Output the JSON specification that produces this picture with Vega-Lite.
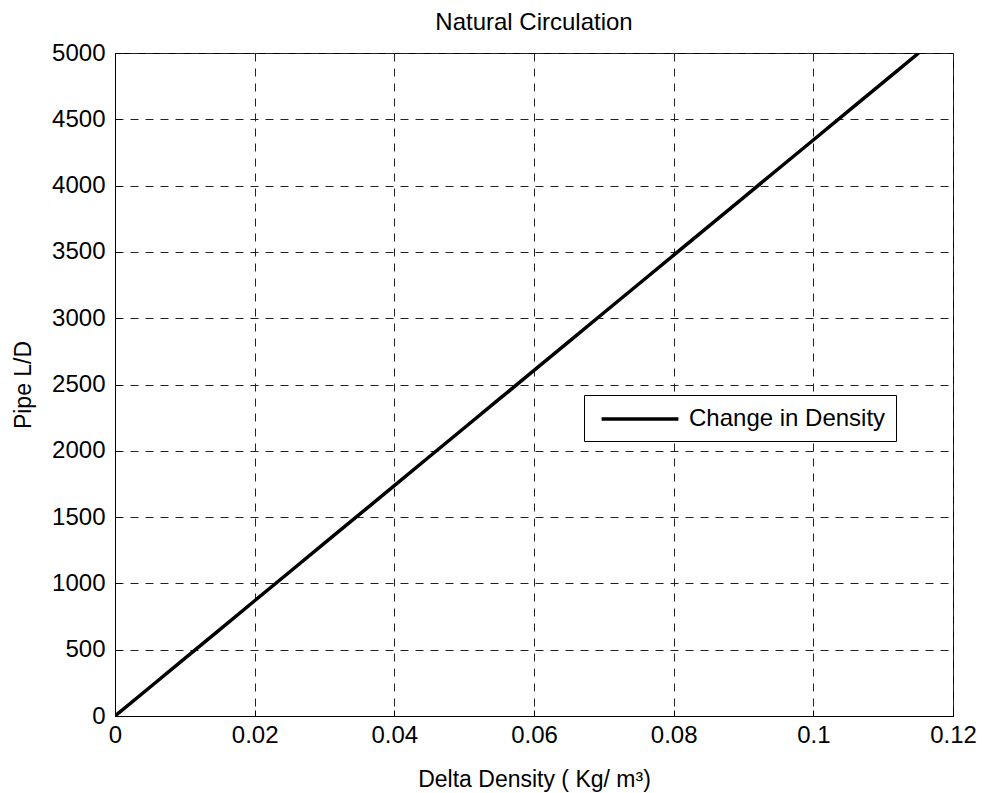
{
  "$schema": "https://vega.github.io/schema/vega-lite/v6.json",
  "autosize": {"type": "none"},
  "padding": {"left": 115, "top": 53, "right": 30, "bottom": 77},
  "width": 838,
  "height": 663,
  "background": "white",
  "title": {"text": "Natural Circulation", "fontSize": 24, "font": "Liberation Sans", "fontWeight": "normal", "color": "black", "frame": "group", "offset": 6},
  "config": {
    "view": {"stroke": "black", "strokeWidth": 1},
    "axis": {
      "labelFont": "Liberation Sans", "labelFontSize": 24, "labelColor": "black", "labelFlush": false,
      "titleFont": "Liberation Sans", "titleFontSize": 23, "titleFontWeight": "normal", "titleColor": "black",
      "domainColor": "black", "domainWidth": 1,
      "gridColor": "#222", "gridDash": [8, 7], "gridWidth": 1, "gridOpacity": 1,
      "tickColor": "black", "tickSize": -6, "tickWidth": 1
    },
    "legend": {"labelFont": "Liberation Sans", "labelFontSize": 24, "labelColor": "black", "labelLimit": 0}
  },
  "data": {"values": [
    {"x": 0, "y": 0, "s": "Change in Density"},
    {"x": 0.005, "y": 217, "s": "Change in Density"},
    {"x": 0.01, "y": 434, "s": "Change in Density"},
    {"x": 0.015, "y": 652, "s": "Change in Density"},
    {"x": 0.02, "y": 869, "s": "Change in Density"},
    {"x": 0.025, "y": 1086, "s": "Change in Density"},
    {"x": 0.03, "y": 1303, "s": "Change in Density"},
    {"x": 0.035, "y": 1520, "s": "Change in Density"},
    {"x": 0.04, "y": 1738, "s": "Change in Density"},
    {"x": 0.045, "y": 1955, "s": "Change in Density"},
    {"x": 0.05, "y": 2172, "s": "Change in Density"},
    {"x": 0.055, "y": 2389, "s": "Change in Density"},
    {"x": 0.06, "y": 2606, "s": "Change in Density"},
    {"x": 0.065, "y": 2824, "s": "Change in Density"},
    {"x": 0.07, "y": 3041, "s": "Change in Density"},
    {"x": 0.075, "y": 3258, "s": "Change in Density"},
    {"x": 0.08, "y": 3475, "s": "Change in Density"},
    {"x": 0.085, "y": 3692, "s": "Change in Density"},
    {"x": 0.09, "y": 3910, "s": "Change in Density"},
    {"x": 0.095, "y": 4127, "s": "Change in Density"},
    {"x": 0.1, "y": 4344, "s": "Change in Density"},
    {"x": 0.105, "y": 4561, "s": "Change in Density"},
    {"x": 0.11, "y": 4778, "s": "Change in Density"},
    {"x": 0.1151, "y": 5000, "s": "Change in Density"}
  ]},
  "layer": [
    {
      "mark": {"type": "line", "strokeWidth": 3.5, "clip": true},
      "encoding": {
        "x": {"field": "x", "type": "quantitative", "scale": {"domain": [0, 0.12], "nice": false},
              "axis": {"values": [0, 0.02, 0.04, 0.06, 0.08, 0.1, 0.12], "labelExpr": "'' + datum.value", "title": "Delta Density ( Kg/ m³)", "labelPadding": 13, "titleY": 70, "titleBaseline": "alphabetic"}},
        "y": {"field": "y", "type": "quantitative", "scale": {"domain": [0, 5000], "nice": false},
              "axis": {"values": [0, 500, 1000, 1500, 2000, 2500, 3000, 3500, 4000, 4500, 5000], "format": "d", "title": "Pipe L/D", "labelPadding": 16, "titleX": -85, "titleBaseline": "alphabetic"}},
        "color": {"field": "s", "type": "nominal", "scale": {"domain": ["Change in Density"], "range": ["black"]},
                  "legend": {"title": null, "orient": "none", "legendX": 469, "legendY": 342, "symbolType": "M-3.2,0H3.2", "symbolSize": 576, "symbolStrokeWidth": 3.5, "symbolStrokeColor": "black", "symbolFillColor": "transparent", "symbolOffset": 32, "labelOffset": 35, "padding": 10, "strokeColor": "black", "fillColor": "white"}}
      }
    }
  ]
}
